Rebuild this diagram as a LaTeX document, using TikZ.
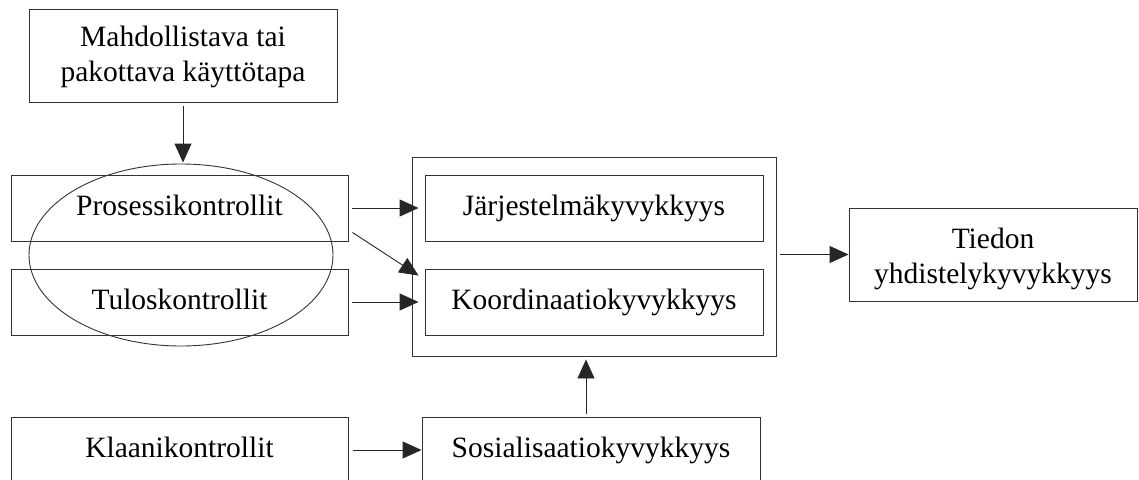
\documentclass[tikz,border=0pt]{standalone}
\usepackage{fontspec}
\setmainfont{Liberation Serif}
\usetikzlibrary{arrows.meta,shapes.geometric}
\begin{document}
\begin{tikzpicture}[x=1pt,y=-1pt,
  box/.style={draw=black!80,line width=0.9pt,rectangle,inner sep=0pt,
    minimum width=#1,font=\fontsize{29.5}{35}\selectfont,align=center,
    text height=21pt,text depth=6pt},
  box/.default=337pt,
  arr/.style={draw=black!85,line width=0.9pt,-{Triangle[length=19pt,width=17pt]}}
]
\useasboundingbox (0,0) rectangle (1139,479);
\node[box=308pt,minimum height=93pt,text height=58pt,text depth=6pt] (top) at (183,55.5) {Mahdollistava tai\\pakottava käyttötapa};
\node[box,minimum height=66pt] (pro) at (179.5,208) {Prosessikontrollit};
\node[box,minimum height=66pt] (tulos) at (179.5,302) {Tuloskontrollit};
\node[box,minimum height=66pt] (klaani) at (179.5,450) {Klaanikontrollit};
\node[draw=black!80,line width=0.9pt,ellipse,minimum width=304pt,minimum height=182pt,inner sep=0pt] (ell) at (181,255) {};
\node[draw=black!80,line width=0.9pt,rectangle,minimum width=364pt,minimum height=199pt,inner sep=0pt] (outer) at (594,256.5) {};
\node[box=338pt,minimum height=66pt] (jarj) at (594,208) {Järjestelmäkyvykkyys};
\node[box=338pt,minimum height=66pt] (koord) at (594,302) {Koordinaatiokyvykkyys};
\node[box=338pt,minimum height=66pt] (sos) at (591,450) {Sosialisaatiokyvykkyys};
\node[box=288pt,minimum height=93pt,text height=64pt,text depth=6pt] (tiedon) at (993,254.5) {Tiedon\\yhdistelykyvykkyys};
\draw[arr,shorten <=4pt,shorten >=1pt] (top.south) -- (top.south |- ell.north);
\draw[arr,shorten <=4pt,shorten >=6pt] (pro.east) -- (jarj.west);
\draw[arr,shorten <=4pt,shorten >=6pt] (tulos.east) -- (koord.west);
\draw[arr] ([xshift=4pt,yshift=9pt]pro.south east) -- ([xshift=-6pt,yshift=-7pt]koord.north west);
\draw[arr,shorten <=4pt] (outer.east |- tiedon.west) -- (tiedon.west);
\draw[arr,shorten <=5pt] (klaani.east |- sos.west) -- (sos.west);
\draw[arr,shorten <=3pt,shorten >=3pt] ([xshift=-5pt]sos.north) -- ([xshift=-5pt]sos.north |- outer.south);
\end{tikzpicture}
\end{document}
